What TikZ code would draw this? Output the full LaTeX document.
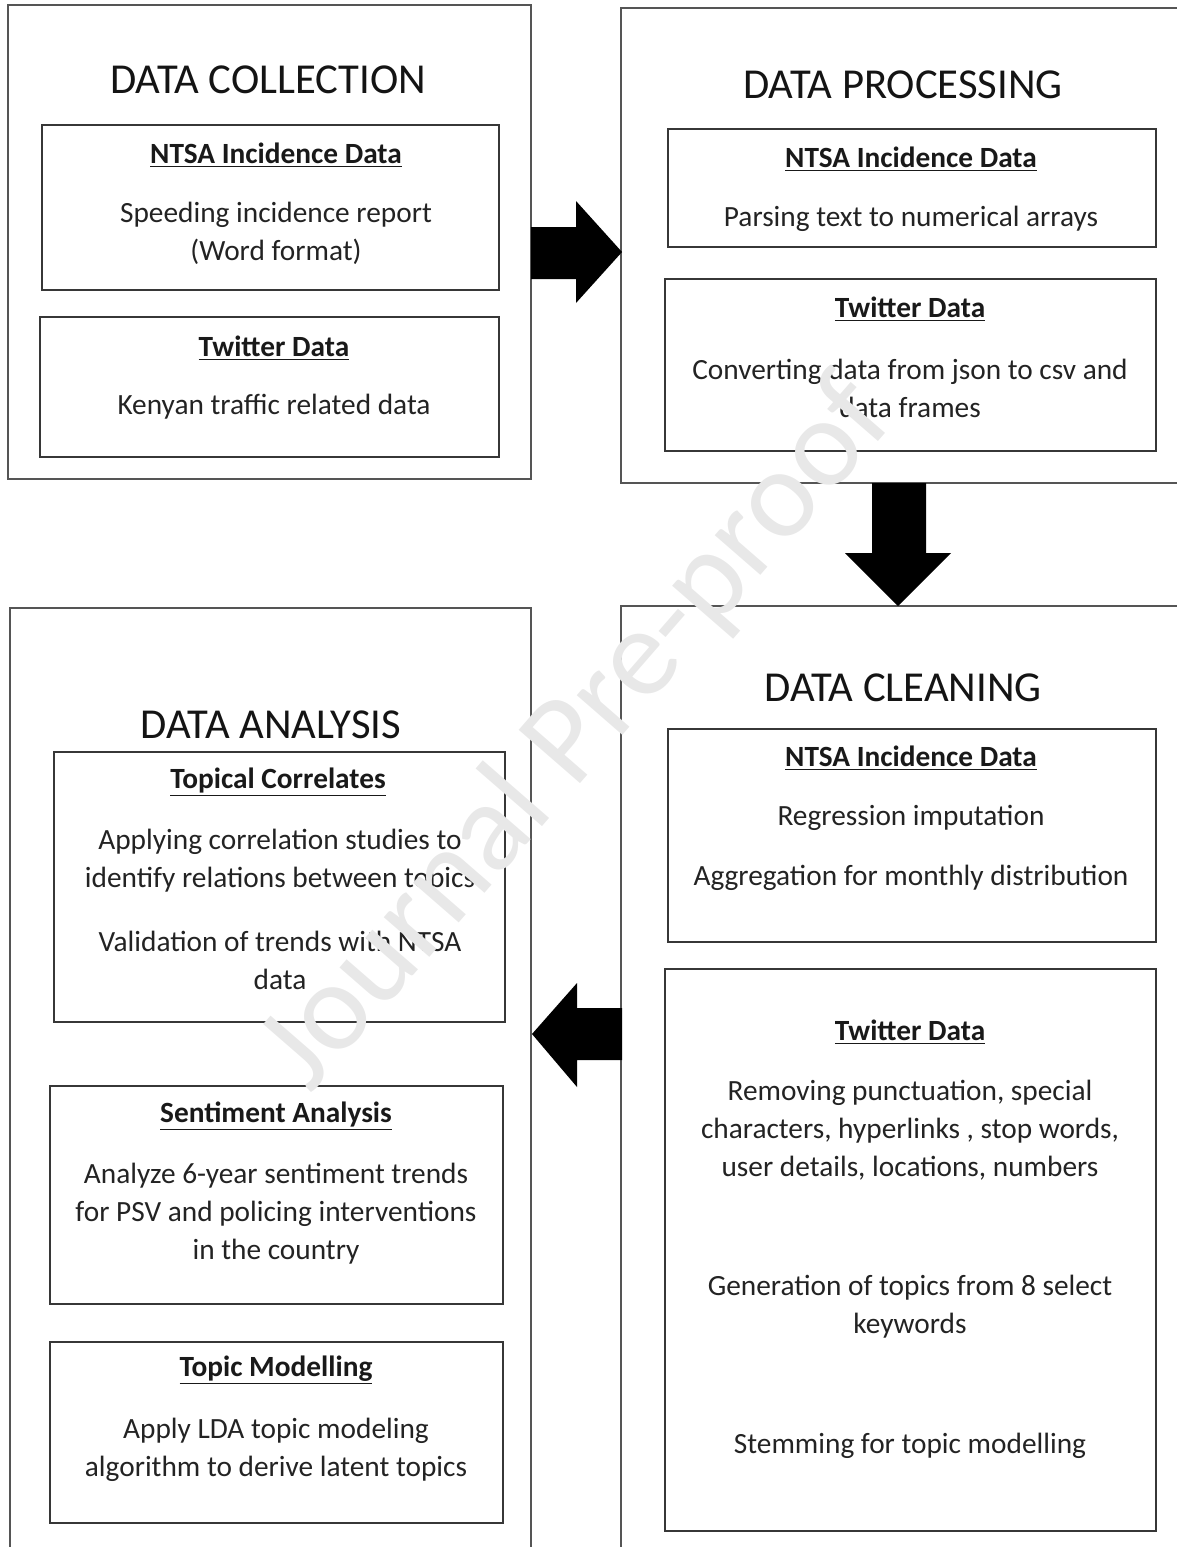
\documentclass[tikz,border=0pt]{standalone}
\usepackage{fontspec}
\setmainfont{Carlito}
\usepackage{tikz}
\usetikzlibrary{arrows}

\begin{document}
\begin{tikzpicture}[x=0.75pt,y=0.75pt,yscale=-1,xscale=1,
  stage/.style={draw={rgb, 255:red, 85; green, 85; blue, 85 }, line width=1.1pt},
  panel/.style={draw={rgb, 255:red, 55; green, 55; blue, 55 }, line width=1.3pt},
  heading/.style={font=\fontsize{32}{38}\selectfont, text={rgb, 255:red, 20; green, 20; blue, 20 }, inner sep=0.75pt},
  subhead/.style={font=\bfseries\fontsize{22}{28.5}\selectfont, text={rgb, 255:red, 25; green, 25; blue, 25 }, inner sep=0.75pt},
  body/.style={font=\fontsize{22}{28.5}\selectfont, text={rgb, 255:red, 35; green, 35; blue, 35 }, align=center, inner sep=0.75pt},
  blockarrow/.style={fill=black, draw=none}]
\useasboundingbox (0,0) rectangle (1177,1547);
\clip (0,0) rectangle (1177,1547);

%Shape: Rectangle [DATA COLLECTION]
\draw [stage] (8,5) rectangle (531,479);
%Shape: Rectangle
\draw [panel] (42,125) rectangle (499,290);
%Shape: Rectangle
\draw [panel] (40,317) rectangle (499,457);

%Shape: Rectangle [DATA PROCESSING]
\draw [stage] (621,8) rectangle (1200,483);
%Shape: Rectangle
\draw [panel] (668,129) rectangle (1156,247);
%Shape: Rectangle
\draw [panel] (665,279) rectangle (1156,451);

%Shape: Rectangle [DATA CLEANING]
\draw [stage] (621,606) rectangle (1200,1570);
%Shape: Rectangle
\draw [panel] (668,729) rectangle (1156,942);
%Shape: Rectangle
\draw [panel] (665,969) rectangle (1156,1531);

%Shape: Rectangle [DATA ANALYSIS]
\draw [stage] (10,608) rectangle (531,1570);
%Shape: Rectangle
\draw [panel] (54,752) rectangle (505,1022);
%Shape: Rectangle
\draw [panel] (50,1086) rectangle (503,1304);
%Shape: Rectangle
\draw [panel] (50,1342) rectangle (503,1523);

%Shape: Right Arrow
\fill [blockarrow] (531,227) -- (576,227) -- (576,201) -- (622,252) -- (576,303) -- (576,279) -- (531,279) -- cycle ;
%Shape: Down Arrow
\fill [blockarrow] (872,483) -- (926,483) -- (926,553) -- (951,553) -- (898,606) -- (845,553) -- (872,553) -- cycle ;
%Shape: Left Arrow
\fill [blockarrow] (622,1008) -- (577,1008) -- (577,983) -- (532,1034) -- (577,1087) -- (577,1060) -- (622,1060) -- cycle ;

% Text Node
\draw (268,80) node [heading] (collT) {DATA COLLECTION};
% Text Node
\draw (276,155) node [subhead] (collNh) {\underline{NTSA Incidence Data}};
% Text Node
\draw (276,233) node [body] (collNb) {Speeding incidence report\\(Word format)};
% Text Node
\draw (274,348) node [subhead] (collTh) {\underline{Twitter Data}};
% Text Node
\draw (274,407) node [body] (collTb) {Kenyan traffic related data};

% Text Node
\draw (903,85) node [heading] (procT) {DATA PROCESSING};
% Text Node
\draw (911,159) node [subhead] (procNh) {\underline{NTSA Incidence Data}};
% Text Node
\draw (911,219) node [body] (procNb) {Parsing text to numerical arrays};
% Text Node
\draw (910,309) node [subhead] (procTh) {\underline{Twitter Data}};
% Text Node
\draw (910,388) node [body] (procTb) {Converting data from json to csv and\\data frames};

% Text Node
\draw (903,688) node [heading] (cleanT) {DATA CLEANING};
% Text Node
\draw (911,758) node [subhead] (cleanNh) {\underline{NTSA Incidence Data}};
% Text Node
\draw (911,818) node [body] (cleanNa) {Regression imputation};
% Text Node
\draw (911,878) node [body] (cleanNb) {Aggregation for monthly distribution};
% Text Node
\draw (910,1032) node [subhead] (cleanTh) {\underline{Twitter Data}};
% Text Node
\draw (910,1130) node [body] (cleanTa) {Removing punctuation, special\\characters, hyperlinks , stop words,\\user details, locations, numbers};
% Text Node
\draw (910,1307) node [body] (cleanTb) {Generation of topics from 8 select\\keywords};
% Text Node
\draw (910,1446) node [body] (cleanTc) {Stemming for topic modelling};

% Text Node
\draw (271,725) node [heading] (anaT) {DATA ANALYSIS};
% Text Node
\draw (278,782) node [subhead] (anaCh) {\underline{Topical Correlates}};
% Text Node
\draw (280,861) node [body] (anaCa) {Applying correlation studies to\\identify relations between topics};
% Text Node
\draw (280,960) node [body] (anaCb) {Validation of trends with NTSA\\data};
% Text Node
\draw (276,1116) node [subhead] (anaSh) {\underline{Sentiment Analysis}};
% Text Node
\draw (276,1214) node [body] (anaSb) {Analyze 6-year sentiment trends\\for PSV and policing interventions\\in the country};
% Text Node
\draw (276,1370) node [subhead] (anaMh) {\underline{Topic Modelling}};
% Text Node
\draw (276,1450) node [body] (anaMb) {Apply LDA topic modeling\\algorithm to derive latent topics};

% Text Node
\draw (578,735) node [rotate=49, font=\fontsize{95}{100}\selectfont, text={rgb, 255:red, 232; green, 232; blue, 232 }] (mark) {Journal Pre-proof};

\end{tikzpicture}
\end{document}
